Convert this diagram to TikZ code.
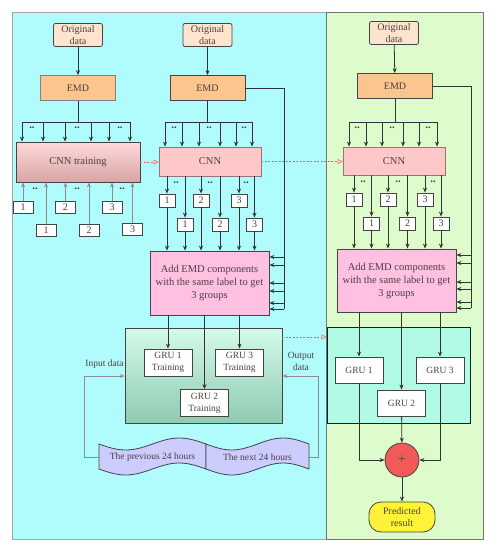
\documentclass[tikz,border=0pt]{standalone}
\usepackage{fontspec}
\setmainfont{Liberation Serif}
\usetikzlibrary{arrows.meta,calc}
\definecolor{cyanbg}{HTML}{B0FCFC}
\definecolor{greenbg}{HTML}{DEFCCB}
\definecolor{origfill}{HTML}{FDE4CE}
\definecolor{emdfill}{HTML}{FCC58E}
\definecolor{cnntop}{HTML}{FFDADA}
\definecolor{cnnbot}{HTML}{D9A4A4}
\definecolor{cnnfill}{HTML}{FFC8C8}
\definecolor{addfill}{HTML}{FFC0E2}
\definecolor{gtop}{HTML}{D4FAEA}
\definecolor{gbot}{HTML}{8ECBB0}
\definecolor{tealfill}{HTML}{B0FAE6}
\definecolor{sumfill}{HTML}{F25A5A}
\definecolor{predfill}{HTML}{FFF33A}
\definecolor{wavefill}{HTML}{CCCCFF}
\definecolor{arrline}{HTML}{333333}
\definecolor{gline}{HTML}{8C8C8C}
\definecolor{txt}{HTML}{4D4040}
\definecolor{boxline}{HTML}{444444}
\definecolor{reddash}{HTML}{FF5A5A}
\tikzset{
  box/.style={draw=boxline, line width=0.8pt, inner sep=0pt, align=center, text=txt},
  orig/.style={box, rounded corners=2pt, fill=origfill, minimum width=49pt, minimum height=23pt, font=\fontsize{10}{12.5}\selectfont},
  emdbox/.style={box, fill=emdfill, minimum width=75pt, minimum height=25pt},
  cnnbox/.style={box, fill=cnnfill, draw=cnnbot!70!black, minimum width=102pt, minimum height=29pt, font=\fontsize{10.5}{12}\selectfont},
  addbox/.style={box, fill=addfill, minimum width=119pt, minimum height=64pt, font=\fontsize{10.5}{13}\selectfont},
  num/.style={box, fill=white, minimum width=16pt, minimum height=13pt, font=\fontsize{10}{10}\selectfont},
  lnum/.style={num, minimum width=20pt, minimum height=12pt},
  grubox/.style={box, fill=white, minimum width=48pt, minimum height=27pt, font=\fontsize{9.5}{12}\selectfont},
  dots/.style={inner sep=0pt, text=txt, font=\fontsize{11}{11}\bfseries},
  lab/.style={inner sep=0pt, text=txt, align=center, font=\fontsize{9.5}{12}\selectfont},
  plain/.style={draw=arrline, line width=0.8pt},
  arr/.style={plain, -{Stealth[length=5pt,width=4pt]}},
  garr/.style={draw=gline, line width=0.8pt, -{Stealth[length=5pt,width=4pt]}},
  redd/.style={draw=reddash, line width=0.6pt, dash pattern=on 2pt off 1.5pt, -{Triangle[open,length=5pt,width=5pt]}},
  wave/.style={draw=boxline, line width=0.8pt, fill=wavefill}
}
\begin{document}
\begin{tikzpicture}[x=1pt,y=-1pt]
\useasboundingbox (0,0) rectangle (495,550);
% panels
\filldraw[fill=cyanbg, draw=gray!70, line width=1pt] (12,12) rectangle (326,539);
\filldraw[fill=greenbg, draw=gray!90!black, line width=1pt] (326,12) rectangle (483,539);

% ================= LEFT COLUMN =================
\node[orig] (o1) at (78,35) {Original\\data};
\node[emdbox, draw=gray] (e1) at (78,88) {EMD};
\node[box, minimum width=124pt, minimum height=40pt, top color=cnntop, bottom color=cnnbot, font=\fontsize{10.5}{12}\selectfont] (cnnt) at (78,162) {CNN training};
\draw[arr] (o1) -- (e1);
\draw[plain] (e1.south) -- (e1.south |- 0,122);
\draw[plain] (22,122) -- (130,122);
\foreach \x in {22,43,65,91,109,130} \draw[arr] (\x,122) -- (\x,0 |- cnnt.north);
\foreach \x/\n in {32/a,77/b,120/c} \node[dots] (d1\n) at (\x,128) {..};
\node[lnum] (u1) at (23,207) {1};
\node[lnum] (u2) at (65.5,207) {2};
\node[lnum] (u3) at (112,207) {3};
\node[lnum] (l1) at (46,230) {1};
\node[lnum] (l2) at (89,230) {2};
\node[lnum] (l3) at (132.5,229) {3};
\foreach \b in {u1,u2,u3,l1,l2,l3} \draw[garr] (\b) -- (\b |- cnnt.south);
\foreach \x/\n in {35/a,77/b,122/c} \node[dots] (d2\n) at (\x,189) {..};

% ================= MIDDLE COLUMN =================
\node[orig] (o2) at (207.5,35) {Original\\data};
\node[emdbox] (e2) at (207.5,88) {EMD};
\node[cnnbox] (c2) at (210,161.5) {CNN};
\draw[arr] (o2) -- (e2);
\draw[plain] (e2.south) -- (e2.south |- 0,122);
\draw[plain] (165,122) -- (252,122);
\foreach \x in {165,182,199,220,236,252} \draw[arr] (\x,122) -- (\x,0 |- c2.north);
\foreach \x/\n in {174/a,209/b,244/c} \node[dots] (d3\n) at (\x,128) {..};
\node[num] (m1u) at (167,200.5) {1};
\node[num] (m2u) at (201,200.5) {2};
\node[num] (m3u) at (239,200.5) {3};
\node[num] (m1l) at (185,224.5) {1};
\node[num] (m2l) at (220,224.5) {2};
\node[num] (m3l) at (254.5,224.5) {3};
\foreach \x/\n in {176/a,210/b,246/c} \node[dots] (d4\n) at (\x,183) {..};
\node[addbox] (a2) at (209.5,283) {Add EMD components\\with the same label to get\\3 groups};
\foreach \b in {m1u,m2u,m3u,m1l,m2l,m3l} {
  \draw[arr] (c2.south -| \b) -- (\b);
  \draw[arr] (\b) -- (\b |- a2.north);
}
\coordinate (b2) at (284,88);
\draw[plain] (e2.east) -- (b2) -- (284,309);
\foreach \y in {257,265,283,291,303,309} \draw[arr] (284,\y) -- (a2.east |- 0,\y);

% GRU training area
\node[box, top color=gtop, bottom color=gbot, minimum width=157pt, minimum height=95pt] (g2) at (203.5,375.5) {};
\node[grubox] (g21) at (168,362.5) {GRU 1\\Training};
\node[grubox] (g23) at (239.5,362.5) {GRU 3\\Training};
\node[grubox] (g22) at (204.5,403) {GRU 2\\Training};
\draw[arr] (a2.south -| g21) -- (g21);
\draw[arr] (a2.south -| g23) -- (g23);
\draw[arr] (a2.south -| g22) -- (g22);

% wave (input / output data)
\draw[wave] (99,444) sin (125.75,450) cos (152.5,444) sin (179.25,438) cos (206,444)
  -- (206,469) sin (179.25,463) cos (152.5,469) sin (125.75,475) cos (99,469) -- cycle;
\draw[wave] (206,444) sin (231.75,450) cos (257.5,444) sin (283.25,438) cos (309,444)
  -- (309,469) sin (283.25,463) cos (257.5,469) sin (231.75,475) cos (206,469) -- cycle;
\node[lab] (w1) at (152.5,457) {The previous 24 hours};
\node[lab] (w2) at (257.5,457) {The next 24 hours};
\coordinate (wl) at (99,457);
\coordinate (wr) at (309,457);
\draw[garr] (wl) -- (84,457) -- (84,376) -- (g2.west |- 0,376);
\draw[garr] (wr) -- (318,457) -- (318,376) -- (g2.east |- 0,376);
\node[lab] (inl) at (104.5,364) {Input data};
\node[lab] (outl) at (301,361) {Output\\data};

% ================= RIGHT COLUMN =================
\node[orig] (o3) at (394,33) {Original\\data};
\node[emdbox] (e3) at (395,86) {EMD};
\node[cnnbox, minimum height=28pt] (c3) at (394,161) {CNN};
\draw[arr] (o3) -- (e3);
\draw[plain] (e3.south) -- (e3.south |- 0,122);
\draw[plain] (349,122) -- (437,122);
\foreach \x in {349,366,382,403,419,437} \draw[arr] (\x,122) -- (\x,0 |- c3.north);
\foreach \x/\n in {357/a,392/b,428/c} \node[dots] (d5\n) at (\x,128) {..};
\node[num] (r1u) at (354,199.5) {1};
\node[num] (r2u) at (388,199.5) {2};
\node[num] (r3u) at (425,199.5) {3};
\node[num] (r1l) at (371.5,223.5) {1};
\node[num] (r2l) at (407.5,223.5) {2};
\node[num] (r3l) at (441,223.5) {3};
\foreach \x/\n in {363/a,398/b,433/c} \node[dots] (d6\n) at (\x,182) {..};
\node[addbox, minimum height=63pt] (a3) at (396.5,280.5) {Add EMD components\\with the same label to get\\3 groups};
\foreach \b in {r1u,r2u,r3u,r1l,r2l,r3l} {
  \draw[arr] (c3.south -| \b) -- (\b);
  \draw[arr] (\b) -- (\b |- a3.north);
}
\coordinate (b3) at (471,86);
\draw[plain] (e3.east) -- (b3) -- (471,308);
\foreach \y in {255,263,282,289,302,308} \draw[arr] (471,\y) -- (a3.east |- 0,\y);

\node[box, fill=tealfill, draw=black!70!teal, minimum width=143pt, minimum height=96pt] (t3) at (398.5,375) {};
\node[grubox, minimum height=26pt] (r31) at (359,370) {GRU 1};
\node[grubox, minimum height=26pt] (r33) at (440,370) {GRU 3};
\node[grubox, minimum height=26pt] (r32) at (401.5,403) {GRU 2};
\draw[arr] (a3.south -| r31) -- (r31);
\draw[arr] (a3.south -| r33) -- (r33);
\draw[arr] (a3.south -| r32) -- (r32);
\node[circle, draw=boxline, line width=0.8pt, fill=sumfill, minimum size=34pt, inner sep=0pt, text=txt, font=\fontsize{14}{14}\selectfont] (sum) at (402,460) {+};
\node[box, fill=predfill, rounded corners=12pt, minimum width=66pt, minimum height=30pt, font=\fontsize{10}{12.5}\selectfont] (pred) at (402,517) {Predicted\\result};
\draw[arr] (r31) -- (r31 |- sum) -- (sum);
\draw[arr] (r33) -- (r33 |- sum) -- (sum);
\draw[arr] (r32) -- (sum);
\draw[arr] (sum) -- (pred);

% red dashed links
\draw[redd] (cnnt.east) -- (cnnt.east -| c2.west);
\draw[redd] (c2.east) -- (c2.east -| c3.west);
\draw[redd] (g2.east |- 0,337) -- (t3.west |- 0,337);
\end{tikzpicture}
\end{document}
